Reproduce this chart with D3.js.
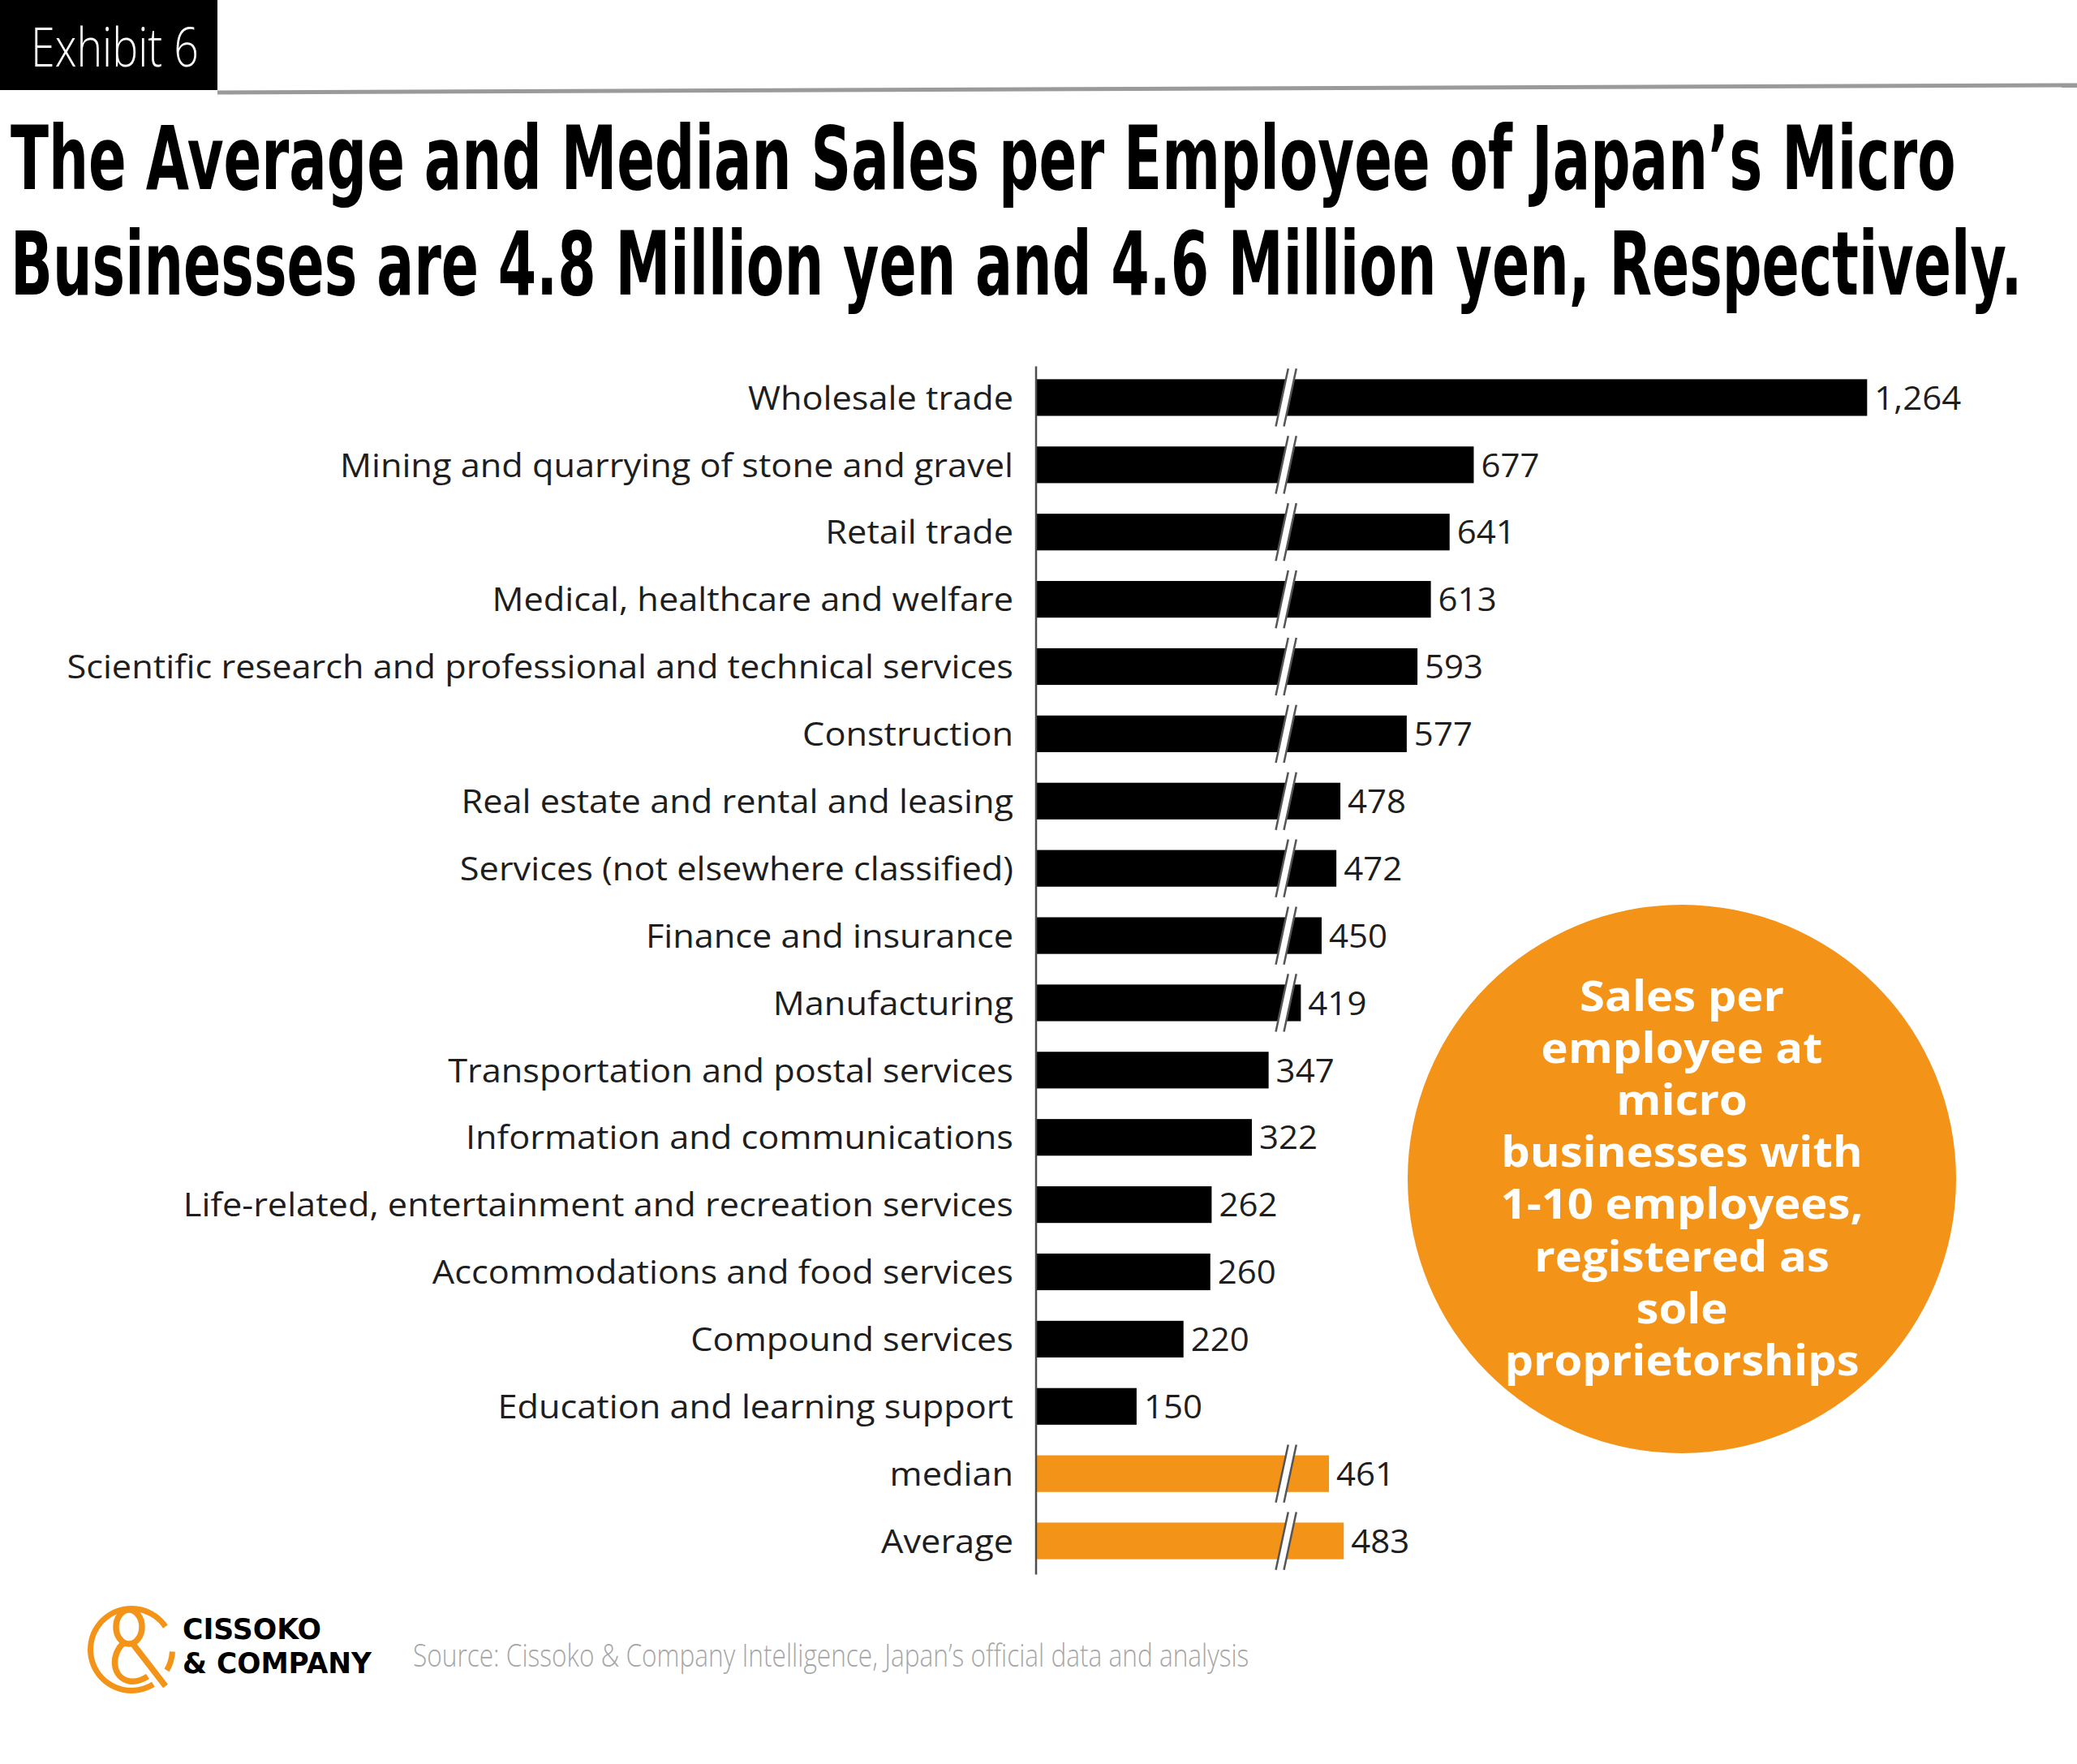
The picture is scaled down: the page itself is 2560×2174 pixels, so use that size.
<!DOCTYPE html>
<html>
<head>
<meta charset="utf-8">
<script src="https://cdn.jsdelivr.net/npm/d3@7"></script>
<style>
  body { margin: 0; background: #fff; }
  svg { display: block; }
</style>
</head>
<body>
<div id="chart"></div>
<script>
// Sales per employee (10,000 yen), micro businesses
const categories = [
    "Wholesale trade",
    "Mining and quarrying of stone and gravel",
    "Retail trade",
    "Medical, healthcare and welfare",
    "Scientific research and professional and technical services",
    "Construction",
    "Real estate and rental and leasing",
    "Services (not elsewhere classified)",
    "Finance and insurance",
    "Manufacturing",
    "Transportation and postal services",
    "Information and communications",
    "Life-related, entertainment and recreation services",
    "Accommodations and food services",
    "Compound services",
    "Education and learning support",
    "median",
    "Average"
];
const values = [1264, 677, 641, 613, 593, 577, 478, 472, 450, 419, 347, 322, 262, 260, 220, 150, 461, 483];
const highlighted = ["median", "Average"];

// axis break (values skipped between these two)
const breakLow = 367, breakHigh = 403;

const titleLines = [
    "The Average and Median Sales per Employee of Japan\u2019s Micro",
    "Businesses are 4.8 Million yen and 4.6 Million yen, Respectively."
];
const noteLines = ["Sales per", "employee at", "micro", "businesses with", "1-10 employees,", "registered as", "sole", "proprietorships"];
const sourceText = "Source: Cissoko & Company Intelligence, Japan\u2019s official data and analysis";

const orange = "#f39318";
const width = 2560, height = 2174;

const svg = d3.select("#chart").append("svg")
    .attr("width", width)
    .attr("height", height);

// squeeze a text horizontally so it is targetW wide, anchored at (ax, ay)
function squeeze(sel, ax, ay, targetW) {
    const w = sel.node().getComputedTextLength();
    sel.attr("transform", `translate(${ax},${ay}) scale(${targetW / w},1)`);
}

// Header box + rule
svg.append("rect").attr("x", 0).attr("y", 0).attr("width", 268).attr("height", 111).attr("fill", "#000");
svg.append("text")
    .style("font-family", "'Open Sans', sans-serif").style("font-weight", 300)
    .style("font-size", "66px").attr("fill", "#fff")
    .text("Exhibit 6")
    .call(squeeze, 38, 82, 207);
svg.append("line").attr("x1", 268).attr("y1", 114).attr("x2", width).attr("y2", 105)
    .attr("stroke", "#9a9a9a").attr("stroke-width", 5);

// Title
const titleWidths = [2398, 2480];
const titleBase = [233, 363];
svg.append("g").selectAll("text").data(titleLines).join("text")
    .style("font-family", "'DejaVu Sans', sans-serif").style("font-weight", 700)
    .style("font-size", "108px").attr("fill", "#000")
    .text(d => d)
    .each(function(d, i) { squeeze(d3.select(this), 13, titleBase[i], titleWidths[i]); });

// Scales
const k = 0.826;
const x0 = 1277;
const xBreak = x0 + breakLow * k;
const maxVal = d3.max(values);
const x = d3.scaleLinear()
    .domain([0, breakLow, breakHigh, maxVal])
    .range([x0, xBreak, xBreak + 10, xBreak + 10 + (maxVal - breakHigh) * k]);

const y = d3.scaleBand()
    .domain(categories)
    .range([448.5, 1940.5])
    .paddingInner(0.455)
    .paddingOuter(0.2275);

const data = categories.map((c, i) => ({ cat: c, value: values[i] }));
const color = d => highlighted.includes(d.cat) ? orange : "#000";

// Bars
svg.append("g").selectAll("rect").data(data).join("rect")
    .attr("x", x0)
    .attr("y", d => y(d.cat))
    .attr("width", d => x(d.value) - x0)
    .attr("height", y.bandwidth())
    .attr("fill", color);

// Break marks
const slant = 15 / 70;
const ext = 13;
const broken = data.filter(d => d.value > breakHigh);
const bx = (x(breakLow) + x(breakHigh)) / 2;
const breaks = svg.append("g").selectAll("g").data(broken).join("g");
breaks.append("path")
    .attr("d", d => {
        const yc = y(d.cat) + y.bandwidth() / 2;
        const t = y(d.cat) - ext, b = y(d.cat) + y.bandwidth() + ext;
        const pts = [
            [bx - 5 + (yc - t) * slant, t], [bx + 5 + (yc - t) * slant, t],
            [bx + 5 + (yc - b) * slant, b], [bx - 5 + (yc - b) * slant, b]
        ];
        return d3.line()(pts) + "Z";
    })
    .attr("fill", "#fff");
[-5, 5].forEach(off => {
    breaks.append("line")
        .attr("x1", d => { const yc = y(d.cat) + y.bandwidth() / 2; return bx + off + (yc - (y(d.cat) - ext)) * slant; })
        .attr("y1", d => y(d.cat) - ext)
        .attr("x2", d => { const yc = y(d.cat) + y.bandwidth() / 2; return bx + off + (yc - (y(d.cat) + y.bandwidth() + ext)) * slant; })
        .attr("y2", d => y(d.cat) + y.bandwidth() + ext)
        .attr("stroke", "#555").attr("stroke-width", 2.5);
});

// Axis line
svg.append("line")
    .attr("x1", x0).attr("x2", x0)
    .attr("y1", y.range()[0] + 3).attr("y2", y.range()[1])
    .attr("stroke", "#4d4d4d").attr("stroke-width", 2.5);

// Category labels
const labelFont = "'Open Sans', sans-serif";
const labels = svg.append("g").selectAll("text").data(data).join("text")
    .attr("text-anchor", "end")
    .attr("dy", "0.36em")
    .style("font-family", labelFont).style("font-weight", 400)
    .style("font-size", "41px").attr("fill", "#1e1e1e")
    .text(d => d.cat);
const maxLabelW = d3.max(labels.nodes(), n => n.getComputedTextLength());
const sx = 1167 / maxLabelW;
labels.attr("transform", d => `translate(1249,${y(d.cat) + y.bandwidth() / 2}) scale(${sx},1)`);

// Value labels
svg.append("g").selectAll("text").data(data).join("text")
    .attr("dy", "0.36em")
    .style("font-family", labelFont).style("font-weight", 400)
    .style("font-size", "41px").attr("fill", "#1e1e1e")
    .attr("transform", d => `translate(${x(d.value) + 9},${y(d.cat) + y.bandwidth() / 2}) scale(${sx * 0.97},1)`)
    .text(d => d3.format(",")(d.value));

// Note bubble
const cx = 2073, cy = 1453, r = 338;
svg.append("circle").attr("cx", cx).attr("cy", cy).attr("r", r).attr("fill", orange);
const note = svg.append("g").selectAll("text").data(noteLines).join("text")
    .attr("text-anchor", "middle")
    .style("font-family", "'Open Sans', sans-serif").style("font-weight", 700)
    .style("font-size", "52px").attr("fill", "#fff")
    .text(d => d);
const noteW = d3.max(note.nodes(), n => n.getComputedTextLength());
const nsx = 447 / noteW;
note.attr("transform", (d, i) => `translate(${cx},${1246 + i * 64.1}) scale(${nsx},1)`);

// Logo
const logo = svg.append("g").attr("fill", "none").attr("stroke", orange).attr("stroke-width", 7.5);
logo.append("path")
    .attr("transform", "translate(162,2033)")
    .attr("d", d3.arc().innerRadius(47).outerRadius(54).startAngle(2.58).endAngle(7.26)())
    .attr("fill", orange).attr("stroke", "none");
logo.append("path")
    .attr("transform", "translate(162,2033)")
    .attr("d", d3.arc().innerRadius(47).outerRadius(54).startAngle(1.62).endAngle(2.1)())
    .attr("fill", orange).attr("stroke", "none");
logo.append("ellipse").attr("cx", 159).attr("cy", 2005).attr("rx", 16).attr("ry", 21);
logo.append("path").attr("d", "M152,2025 C136,2040 138,2068 160,2072 C168,2073 176,2070 182,2066");
logo.append("path").attr("d", "M163,2025 L204,2078");

svg.append("text")
    .style("font-family", "'DejaVu Sans', sans-serif").style("font-weight", 700)
    .style("font-size", "35px").attr("fill", "#000")
    .text("CISSOKO")
    .call(squeeze, 225, 2020, 171);
svg.append("text")
    .style("font-family", "'DejaVu Sans', sans-serif").style("font-weight", 700)
    .style("font-size", "35px").attr("fill", "#000")
    .text("& COMPANY")
    .call(squeeze, 225, 2062, 233);

// Source
svg.append("text")
    .style("font-family", "'Open Sans', sans-serif").style("font-weight", 300)
    .style("font-size", "38px").attr("fill", "#a6a6a6")
    .text(sourceText)
    .call(squeeze, 509, 2054, 1031);
</script>
</body>
</html>
